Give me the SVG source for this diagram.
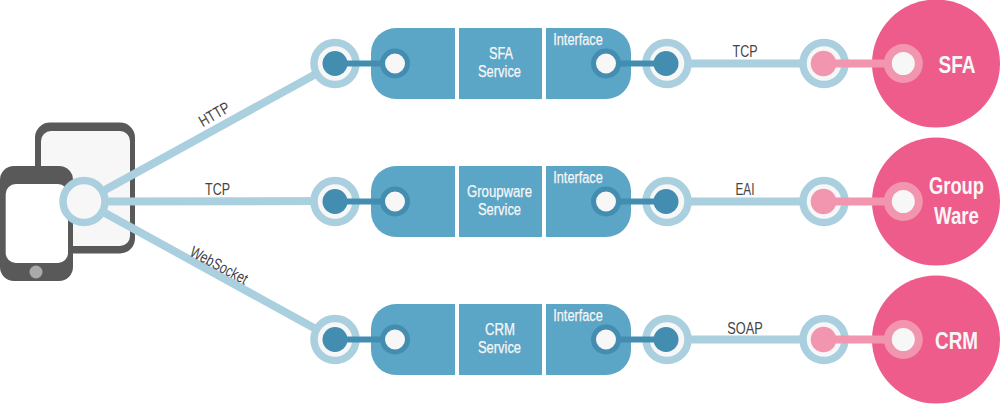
<svg xmlns="http://www.w3.org/2000/svg" width="1000" height="404" viewBox="0 0 1000 404">
<style>
text{font-family:"Liberation Sans",Arial,sans-serif;text-anchor:middle}
.lbl{font-size:16px;fill:#444}
.svc{font-size:16px;fill:#f7f7f7;stroke:#f7f7f7;stroke-width:.25}
.app{font-size:24px;font-weight:700;fill:#f7f7f7}
.wire{stroke:#aad0e0;stroke-width:8;fill:none}
.link{stroke:#428db0;stroke-width:6;fill:none}
.plink{stroke:#f296af;stroke-width:8;fill:none}
.block{fill:#5ba5c6}
.ring{fill:#f7f7f7;stroke:#aad0e0;stroke-width:7.5}
.dark{fill:#428db0}
.pinkd{fill:#f296af}
.port{fill:#f7f7f7;stroke:#428db0;stroke-width:5}
.pport{fill:#f7f7f7;stroke:#f296af;stroke-width:8}
.big{fill:#ed5c8b}
</style>
<defs>
<g id="row">
<path class="block" d="M396 28H455V99H396A25 25 0 0 1 371 74V53A25 25 0 0 1 396 28Z"/>
<rect class="block" x="459" y="28" width="83" height="71"/>
<path class="block" d="M546 28H606A25 25 0 0 1 631 53V74A25 25 0 0 1 606 99H546Z"/>
<line class="wire" x1="690" y1="63.500" x2="800" y2="63.500"/>
<circle class="ring" cx="335" cy="63.500" r="21"/>
<circle class="dark" cx="335" cy="63.500" r="12.500"/>
<circle class="ring" cx="667" cy="63.500" r="21"/>
<circle class="dark" cx="666" cy="63.500" r="12.500"/>
<line class="link" x1="335" y1="63.500" x2="395" y2="63.500"/>
<line class="link" x1="606" y1="63.500" x2="666" y2="63.500"/>
<circle class="port" cx="395" cy="63.500" r="12.500"/>
<circle class="port" cx="606" cy="63.500" r="12.500"/>
<circle class="big" cx="936" cy="63.500" r="64"/>
<circle class="ring" cx="824" cy="63.500" r="21"/>
<circle class="pinkd" cx="823.500" cy="63.500" r="12.800"/>
<line class="plink" x1="824" y1="63.500" x2="903" y2="63.500"/>
<circle class="pport" cx="903.300" cy="63.500" r="15.500"/>
</g>
</defs>
<g id="devices">
<rect x="35" y="122.500" width="100" height="131" rx="15" fill="#595959"/>
<rect x="41" y="131" width="89" height="115" rx="10" fill="#f7f7f7"/>
<rect x="0" y="166" width="73" height="115" rx="14" fill="#595959"/>
<rect x="5.700" y="184" width="62.300" height="79" rx="10" fill="#fff"/>
<circle cx="36" cy="272" r="6.500" fill="#aaa"/>
</g>
<g id="connectors">
<line class="wire" x1="84" y1="201.500" x2="335" y2="63.500"/>
<line class="wire" x1="84" y1="201.500" x2="335" y2="201"/>
<line class="wire" x1="84" y1="201.500" x2="335" y2="339.500"/>
</g>
<g id="hub"><circle cx="84" cy="201.500" r="21" class="ring"/></g>
<g id="row-sfa">
<use href="#row"/>
<text class="svc" x="501" y="58.500" textLength="24" lengthAdjust="spacingAndGlyphs">SFA</text><text class="svc" x="499.500" y="77" textLength="43" lengthAdjust="spacingAndGlyphs">Service</text>
<text class="svc" x="578" y="44.700" textLength="49.500" lengthAdjust="spacingAndGlyphs">Interface</text>
<text class="lbl" x="745" y="57" textLength="25" lengthAdjust="spacingAndGlyphs">TCP</text>
<text class="app" x="957" y="72.700" textLength="37" lengthAdjust="spacingAndGlyphs">SFA</text>
</g>
<g id="row-groupware">
<use href="#row" y="138"/>
<text class="svc" x="499.500" y="196.500" textLength="65" lengthAdjust="spacingAndGlyphs">Groupware</text><text class="svc" x="499.500" y="215" textLength="43" lengthAdjust="spacingAndGlyphs">Service</text>
<text class="svc" x="578" y="182.700" textLength="49.500" lengthAdjust="spacingAndGlyphs">Interface</text>
<text class="lbl" x="745" y="195" textLength="19" lengthAdjust="spacingAndGlyphs">EAI</text>
<text class="app" x="956.500" y="194" textLength="55" lengthAdjust="spacingAndGlyphs">Group</text><text class="app" x="956.500" y="224" textLength="45" lengthAdjust="spacingAndGlyphs">Ware</text>
</g>
<g id="row-crm">
<use href="#row" y="276"/>
<text class="svc" x="500" y="334.500" textLength="30" lengthAdjust="spacingAndGlyphs">CRM</text><text class="svc" x="499.500" y="353" textLength="43" lengthAdjust="spacingAndGlyphs">Service</text>
<text class="svc" x="578" y="320.700" textLength="49.500" lengthAdjust="spacingAndGlyphs">Interface</text>
<text class="lbl" x="745" y="333.500" textLength="35.500" lengthAdjust="spacingAndGlyphs">SOAP</text>
<text class="app" x="956.500" y="348.700" textLength="43" lengthAdjust="spacingAndGlyphs">CRM</text>
</g>
<g id="labels">
<text class="lbl" transform="translate(217 119) rotate(-30)" textLength="33" lengthAdjust="spacingAndGlyphs">HTTP</text>
<text class="lbl" x="217.500" y="195" textLength="25" lengthAdjust="spacingAndGlyphs">TCP</text>
<text class="lbl" transform="translate(216.500 270) rotate(28)" textLength="63" lengthAdjust="spacingAndGlyphs">WebSocket</text>
</g>
</svg>
